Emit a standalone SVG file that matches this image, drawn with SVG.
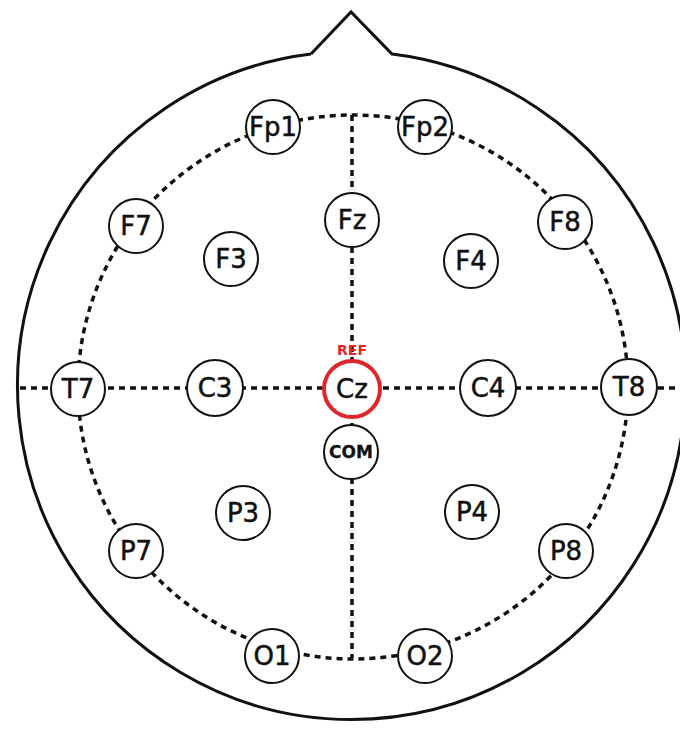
<svg xmlns="http://www.w3.org/2000/svg" width="680" height="729" viewBox="0 0 680 729">
  <style>
    .head { fill: none; stroke: #111; stroke-width: 3; stroke-linejoin: miter; }
    .dash { fill: none; stroke: #111; stroke-width: 3.5; stroke-dasharray: 6 5; }
    .el circle { fill: #fff; stroke: #111; stroke-width: 2; }
    .el text { font-family: "DejaVu Sans", "Liberation Sans", sans-serif; font-size: 26px; fill: #111; stroke: #111; stroke-width: 0.5; text-anchor: middle; }
    #COM text { font-size: 17px; font-weight: bold; stroke-width: 0.3; }
    #Cz circle { stroke: #e0262a; stroke-width: 4; }
    .ref { font-family: "DejaVu Sans", "Liberation Sans", sans-serif; font-size: 14px; font-weight: bold; fill: #e0262a; text-anchor: middle; }
  </style>
  <rect width="680" height="729" fill="#fff"/>

  <!-- head outline with nose -->
  <path class="head" d="M 311 54 L 351 12 L 392 54 A 334 334 0 1 1 311 54"/>

  <!-- connectors: 10-20 montage lines -->
  <g id="connectors">
    <ellipse class="dash" cx="353" cy="387" rx="275" ry="272"/>
    <line class="dash" x1="352" y1="115" x2="352" y2="658"/>
    <line class="dash" x1="20" y1="388" x2="680" y2="388"/>
  </g>

  <!-- electrodes -->
  <g id="Fp1" class="el"><circle cx="273" cy="127" r="27"/><text x="273" y="136">Fp1</text></g>
  <g id="Fp2" class="el"><circle cx="425" cy="127" r="27"/><text x="425" y="136">Fp2</text></g>
  <g id="F7" class="el"><circle cx="136" cy="226" r="27"/><text x="136" y="235">F7</text></g>
  <g id="Fz" class="el"><circle cx="352" cy="220" r="27"/><text x="352" y="229">Fz</text></g>
  <g id="F8" class="el"><circle cx="565" cy="222" r="27"/><text x="565" y="231">F8</text></g>
  <g id="F3" class="el"><circle cx="231" cy="259" r="27"/><text x="231" y="268">F3</text></g>
  <g id="F4" class="el"><circle cx="471" cy="261" r="27"/><text x="471" y="270">F4</text></g>
  <g id="T7" class="el"><circle cx="78" cy="389" r="27"/><text x="78" y="398">T7</text></g>
  <g id="C3" class="el"><circle cx="215" cy="388" r="28"/><text x="215" y="397">C3</text></g>
  <g id="Cz" class="el"><circle cx="352" cy="389" r="28"/><text x="352" y="398">Cz</text></g>
  <g id="C4" class="el"><circle cx="488" cy="388" r="28"/><text x="488" y="397">C4</text></g>
  <g id="T8" class="el"><circle cx="629" cy="387" r="28"/><text x="629" y="396">T8</text></g>
  <g id="COM" class="el"><circle cx="351" cy="452" r="27"/><text x="351" y="458">COM</text></g>
  <g id="P3" class="el"><circle cx="243" cy="513" r="27"/><text x="243" y="522">P3</text></g>
  <g id="P4" class="el"><circle cx="472" cy="512" r="27"/><text x="472" y="521">P4</text></g>
  <g id="P7" class="el"><circle cx="136" cy="551" r="27"/><text x="136" y="560">P7</text></g>
  <g id="P8" class="el"><circle cx="566" cy="551" r="27"/><text x="566" y="560">P8</text></g>
  <g id="O1" class="el"><circle cx="272" cy="656" r="27"/><text x="272" y="665">O1</text></g>
  <g id="O2" class="el"><circle cx="425" cy="656" r="27"/><text x="425" y="665">O2</text></g>

  <!-- reference label -->
  <text class="ref" x="352" y="355">REF</text>
</svg>
